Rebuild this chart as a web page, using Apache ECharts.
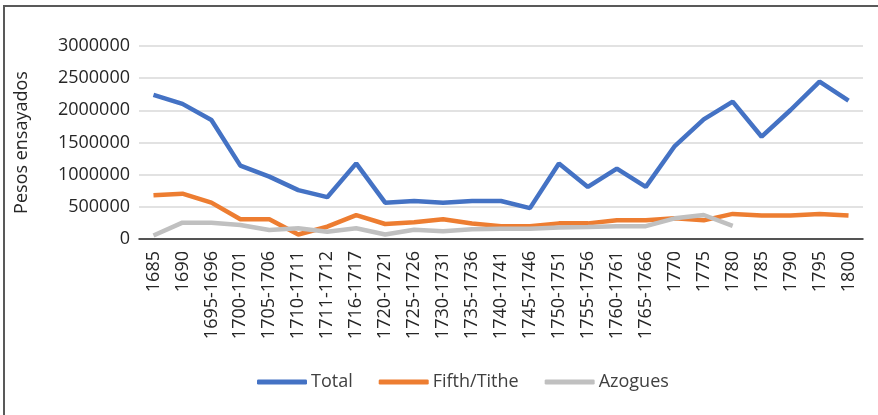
<!DOCTYPE html>
<html>
<head>
<meta charset="utf-8">
<script src="https://cdn.jsdelivr.net/npm/echarts@6/dist/echarts.min.js"></script>
<style>
  html, body { margin: 0; padding: 0; background: #fff; }
  #frame {
    position: absolute; left: 3px; top: 5px; width: 900px; height: 440px;
    border-left: 2px solid #595959; border-top: 2px solid #595959;
  }
  #chart { position: absolute; left: 0; top: 0; width: 878px; height: 415px; }
</style>
</head>
<body>
<div id="frame"></div>
<div id="chart"></div>
<script>
  var years = ['1685', '1690', '1695-1696', '1700-1701', '1705-1706', '1710-1711', '1711-1712',
    '1716-1717', '1720-1721', '1725-1726', '1730-1731', '1735-1736', '1740-1741', '1745-1746',
    '1750-1751', '1755-1756', '1760-1761', '1765-1766', '1770', '1775', '1780', '1785', '1790',
    '1795', '1800'];
  var total = [2240000, 2100000, 1850000, 1140000, 970000, 760000, 650000, 1175000, 565000, 590000,
    565000, 590000, 590000, 480000, 1175000, 810000, 1095000, 810000, 1445000, 1860000, 2135000,
    1590000, 2005000, 2445000, 2150000];
  var fifthTithe = [680000, 705000, 565000, 306000, 306000, 70000, 191000, 370000, 233000, 259000,
    308000, 240000, 200000, 200000, 243000, 243000, 290000, 290000, 321000, 290000, 390000,
    365000, 365000, 390000, 365000];
  var azogues = [55000, 254000, 254000, 218000, 140000, 166000, 114000, 166000, 70000, 145000,
    120000, 150000, 160000, 160000, 180000, 185000, 200000, 200000, 321000, 373000, 205000,
    null, null, null, null];

  var font = 'Open Sans';
  var chart = echarts.init(document.getElementById('chart'));
  var option = {
    animation: false,
    color: ['#4472C4', '#ED7D31', '#C0C0C0'],
    textStyle: { fontFamily: font },
    grid: { left: 139, right: 15, top: 46, bottom: 176 },
    legend: {
      bottom: 19,
      left: 252,
      icon: 'roundRect',
      itemWidth: 50,
      itemHeight: 5,
      itemGap: 26,
      textStyle: { fontSize: 18, color: '#404040', fontFamily: font, padding: [0, 0, 0, -1] },
      data: ['Total', 'Fifth/Tithe', 'Azogues']
    },
    xAxis: {
      type: 'category',
      data: years,
      boundaryGap: true,
      axisLine: { lineStyle: { color: '#262626', width: 1.5 } },
      axisTick: { show: false },
      axisLabel: { rotate: 90, interval: 0, margin: 12, fontSize: 18, color: '#262626', fontFamily: font }
    },
    yAxis: {
      type: 'value',
      min: 0,
      max: 3000000,
      interval: 500000,
      name: 'Pesos ensayados',
      nameLocation: 'middle',
      nameGap: 108,
      nameTextStyle: { fontSize: 18, color: '#262626', fontFamily: font },
      axisLine: { show: false },
      axisTick: { show: false },
      axisLabel: {
        margin: 9, fontSize: 18, color: '#262626', fontFamily: font,
        formatter: function (v) { return String(v); }
      },
      splitLine: { lineStyle: { color: '#D9D9D9', width: 1.5 } }
    },
    series: [
      { name: 'Total', type: 'line', data: total, symbol: 'none', lineStyle: { width: 4.5 } },
      { name: 'Fifth/Tithe', type: 'line', data: fifthTithe, symbol: 'none', lineStyle: { width: 4.5 } },
      { name: 'Azogues', type: 'line', data: azogues, symbol: 'none', lineStyle: { width: 4.5 } }
    ]
  };
  chart.setOption(option);
</script>
</body>
</html>
